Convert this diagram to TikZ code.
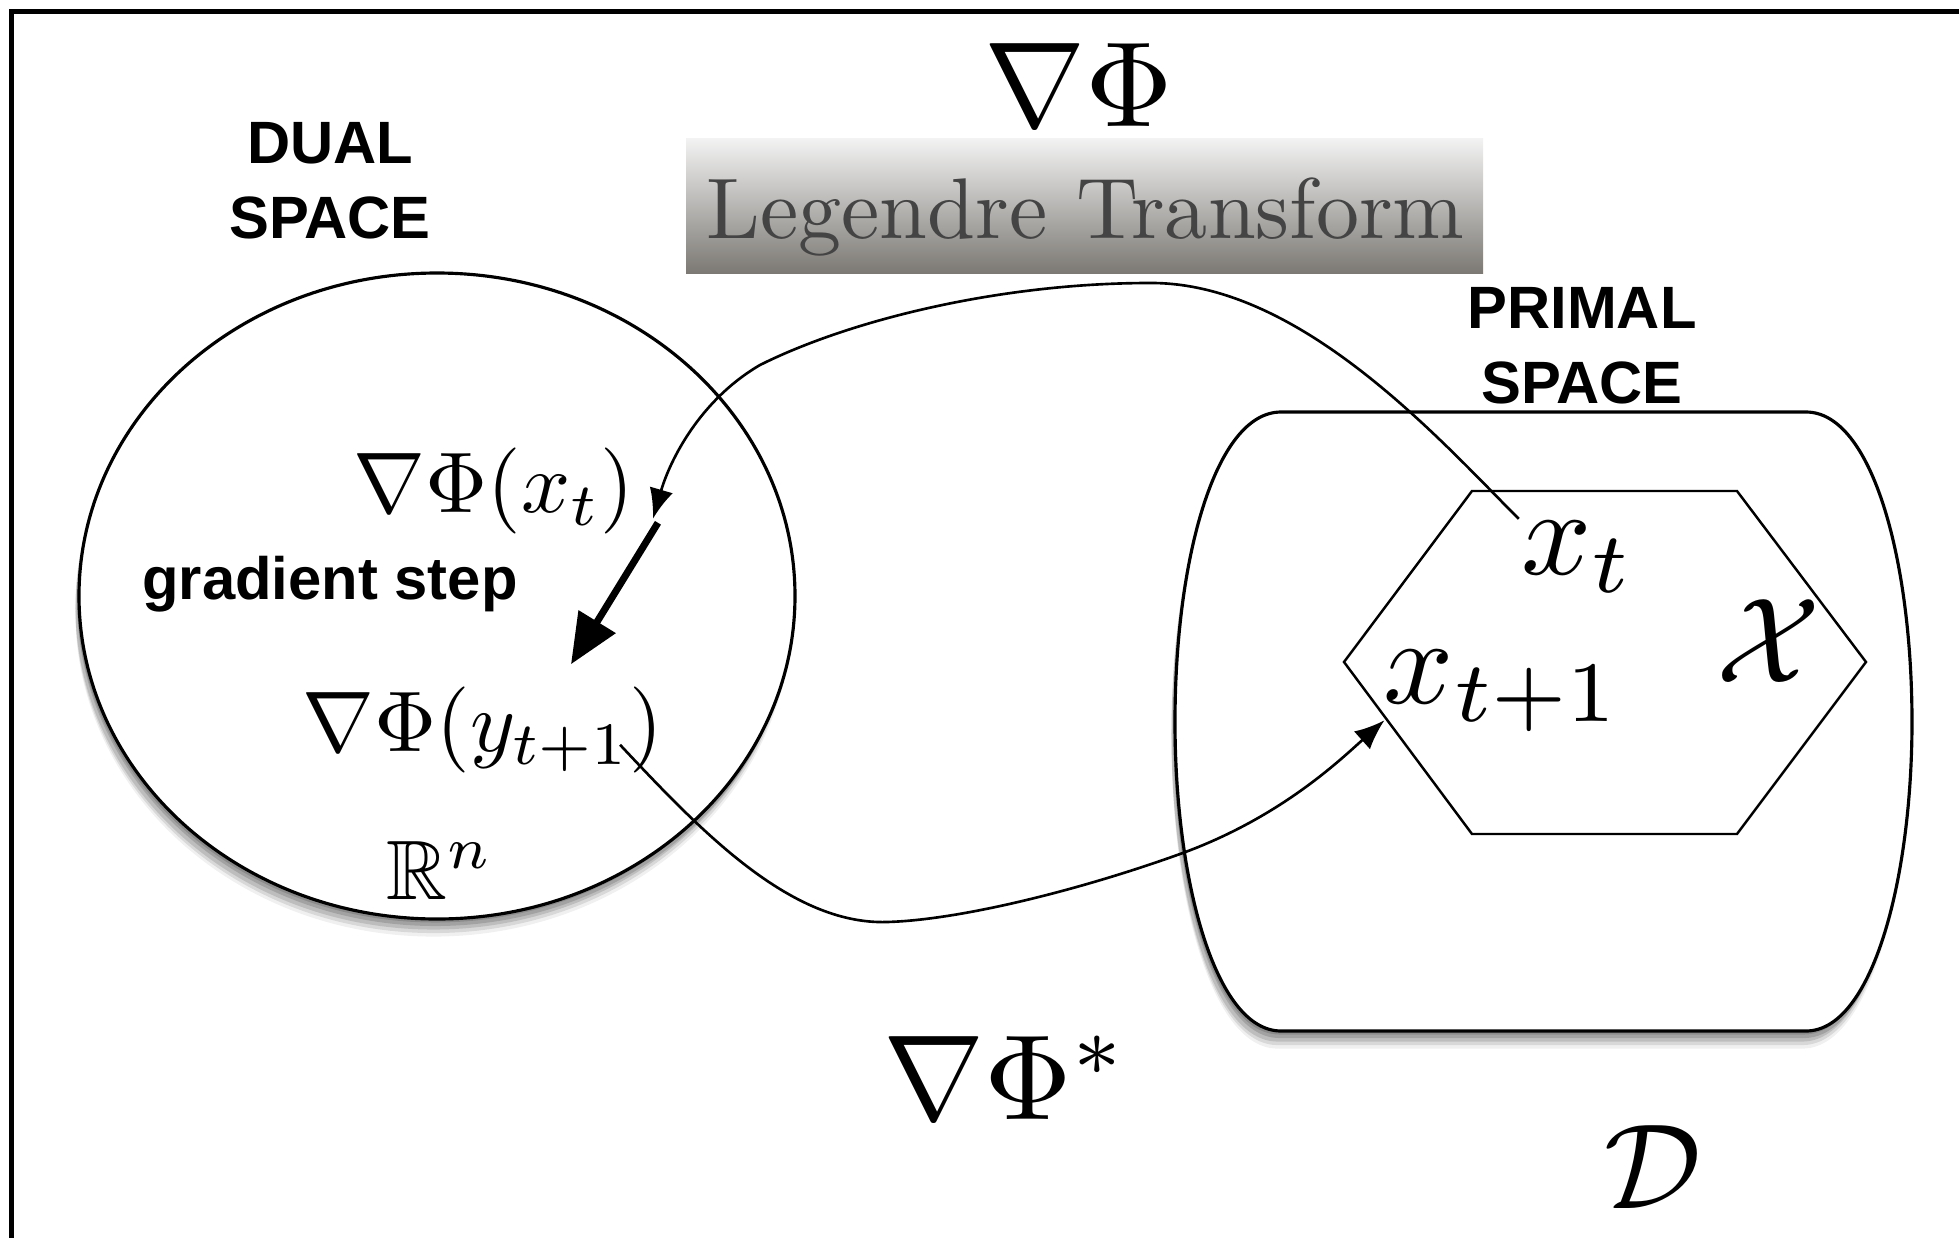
\documentclass[tikz,border=0pt]{standalone}
\usepackage{amsmath,amssymb}
\usepackage{fontspec}
\newfontfamily\spacefont{Liberation Sans}
\usetikzlibrary{arrows.meta,positioning}
\definecolor{legendretop}{RGB}{243,243,243}
\definecolor{legendrebottom}{RGB}{124,121,116}
\definecolor{legendretext}{RGB}{68,68,68}

\begin{document}
\begin{tikzpicture}[
    bigmath/.style={inner sep=0pt, scale=3.45},
    midmath/.style={inner sep=0pt, scale=2.45},
    spacelabel/.style={inner sep=0pt, align=center, font=\spacefont\bfseries\fontsize{17}{21.3}\selectfont},
    softshadow/.style={
        preaction={fill=black, opacity=.14, transform canvas={xshift=-0.5pt, yshift=-1pt}},
        preaction={fill=black, opacity=.14, transform canvas={xshift=-0.5pt, yshift=-2pt}},
        preaction={fill=black, opacity=.12, transform canvas={xshift=-1pt, yshift=-3pt}},
        preaction={fill=black, opacity=.10, transform canvas={xshift=-1pt, yshift=-4pt}},
        preaction={fill=black, opacity=.06, transform canvas={xshift=-1pt, yshift=-5pt}}},
    thinarrow/.style={line width=0.75pt, -{Latex[length=3mm,width=2.4mm]}},
    steparrow/.style={line width=2pt, -{Triangle[length=5mm,width=4.2mm]}}]
    \useasboundingbox (0,0) rectangle (19.59,-12.38);

    % frame
    \draw[line width=1.4pt] (0.115,-12.38) -- (0.115,-0.115) -- (19.59,-0.115);

    % dual space
    \path[draw, line width=0.9pt, fill=white, softshadow] (4.37,-5.96) ellipse [x radius=3.58, y radius=3.23];

    % primal space and the feasible set
    \path[draw, line width=0.9pt, fill=white, softshadow] (12.81,-4.12) -- (18.06,-4.12)
        .. controls (18.72,-4.12) and (19.12,-5.60) .. (19.12,-7.22)
        .. controls (19.12,-8.80) and (18.72,-10.31) .. (18.06,-10.31) -- (12.81,-10.31)
        .. controls (12.15,-10.31) and (11.75,-8.80) .. (11.75,-7.22)
        .. controls (11.75,-5.60) and (12.15,-4.12) .. (12.81,-4.12) -- cycle;
    \draw[line width=0.7pt] (14.72,-4.91) -- (17.37,-4.91) -- (18.66,-6.62) -- (17.37,-8.34) -- (14.72,-8.34) -- (13.44,-6.62) -- cycle;

    % Legendre transform banner
    \node (legendre) [minimum width=7.97cm, minimum height=1.35cm, inner sep=0pt, top color=legendretop, bottom color=legendrebottom] at (10.845,-2.055) {};
    \node (legendretxt) [scale=2.45, inner sep=0pt, text=legendretext, anchor=base] at (10.855,-2.38) {Legendre Transform};

    \node (nablaphi) [bigmath] at (10.79,-0.85) {$\nabla\Phi$};
    \node (nablaphistar) [bigmath] at (10.06,-10.78) {$\nabla\Phi^*$};
    \node (dualname) [spacelabel] at (3.30,-1.81) {DUAL\\SPACE};
    \node (primalname) [spacelabel] at (15.82,-3.46) {PRIMAL\\SPACE};

    \node (gradx) [midmath] at (4.94,-4.91) {$\nabla\Phi(x_t)$};
    \node (stepname) [spacelabel] at (3.30,-5.84) {gradient step};
    \node (grady) [midmath] at (4.83,-7.30) {$\nabla\Phi(y_{t+1})$};
    \node (reals) [inner sep=0pt, scale=2.4] at (4.40,-8.70) {$\mathbb{R}^n$};

    \node (xt) [inner sep=0pt, scale=3.5] at (15.78,-5.57) {$x_t$};
    \node (xnext) [inner sep=0pt, scale=3.5] at (15.03,-6.91) {$x_{t+1}$};
    \node (feasible) [bigmath] at (17.69,-6.41) {$\mathcal{X}$};
    \node (domain) [bigmath] at (16.53,-11.67) {$\mathcal{D}$};

    % mirror map and its inverse
    \draw[thinarrow] (xt.north west) .. controls (14.40,-4.40) and (13.00,-2.82) .. (11.50,-2.83)
        .. controls (10.00,-2.83) and (8.50,-3.20) .. (7.60,-3.65)
        .. controls (7.00,-4.00) and (6.70,-4.60) .. ([shift={(0.17,0.17)}]gradx.south east);
    \draw[steparrow] ([shift={(0.22,0.13)}]gradx.south east) -- ([shift={(0.88,0.21)}]grady.north);
    \draw[thinarrow] ([shift={(-0.45,0.30)}]grady.south east) .. controls (7.00,-8.30) and (7.90,-9.25) .. (8.87,-9.22)
        .. controls (9.60,-9.20) and (10.80,-8.90) .. (11.80,-8.54)
        .. controls (12.80,-8.18) and (13.40,-7.60) .. ([shift={(0.03,0.14)}]xnext.south west);
\end{tikzpicture}
\end{document}
